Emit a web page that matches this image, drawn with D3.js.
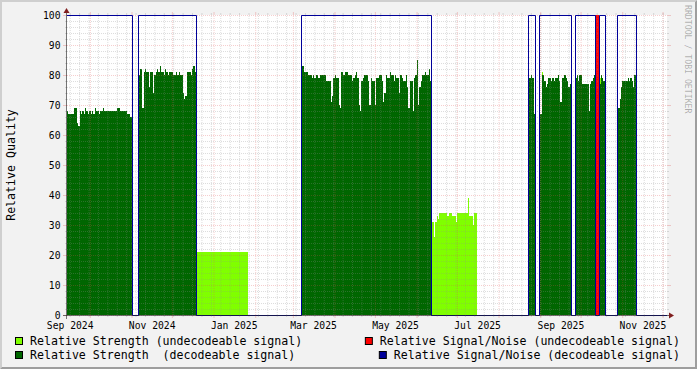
<!DOCTYPE html>
<html>
<head>
<meta charset="utf-8">
<script src="https://cdn.jsdelivr.net/npm/d3@7"></script>
<style>
  body { margin: 0; background: #f2f2f2; }
  svg { display: block; }
  text { font-family: 'DejaVu Sans Mono', monospace; white-space: pre; }
</style>
</head>
<body>
<div id="chart"></div>
<script>
// time span shown on the x axis
const timeRange = ['2024-09-14T00:00', '2025-12-04T07:00'];

// relative strength, decodeable signal: one value per day, per block
const decodeableStarts = ['2024-09-13T12:00', '2024-11-06T00:00', '2025-03-07T00:00', '2025-08-23T00:00',
  '2025-08-31T00:00', '2025-09-27T00:00', '2025-10-15T00:00', '2025-10-28T00:00'];
const decodeableValues = [
  [68, 67, 67, 67, 67, 67, 69, 69, 64, 63, 68, 67, 68, 67, 69, 68, 67, 68, 67, 68, 67, 69, 68, 68, 67,
    68, 68, 69, 68, 68, 68, 68, 68, 68, 68, 68, 68, 68, 69, 69, 68, 68, 68, 68, 68, 67, 67, 66, 66],
  [80, 82, 82, 69, 81, 82, 81, 81, 76, 81, 81, 74, 80, 81, 82, 81, 83, 81, 81, 80, 82, 81, 80, 81, 81,
    81, 80, 80, 81, 80, 81, 80, 80, 74, 72, 73, 81, 81, 81, 80, 82, 83, 81],
  [80, 83, 81, 81, 81, 80, 80, 80, 79, 80, 79, 80, 80, 79, 80, 80, 80, 80, 80, 78, 78, 78, 71, 73, 79,
    80, 79, 79, 70, 69, 81, 80, 80, 81, 81, 80, 80, 80, 78, 79, 80, 81, 79, 70, 68, 78, 79, 80, 80, 80,
    78, 70, 79, 78, 78, 70, 79, 79, 80, 80, 78, 71, 74, 80, 79, 79, 81, 80, 80, 78, 80, 79, 79, 74, 80,
    79, 78, 78, 80, 76, 69, 78, 78, 68, 79, 80, 85, 70, 76, 78, 80, 80, 81, 80, 80, 82, 78],
  [66, 79, 80, 79, 67],
  [67, 67, 80, 80, 78, 76, 77, 79, 79, 78, 79, 78, 79, 79, 80, 78, 71, 79, 79, 80, 79, 78, 76, 77],
  [79, 80, 78, 80, 80, 77, 77, 77, 77, 77, 68, 77, 78, 79, 80],
  [77, 80, 79, 78],
  [69, 69, 72, 76, 78, 78, 78, 78, 79, 78, 79, 78, 76, 80],
];

// relative strength, undecodeable signal
const undecodeableStarts = ['2024-12-19T00:00', '2025-06-12T00:00', '2025-09-02T00:00', '2025-10-15T00:00'];
const undecodeableValues = [
  [21, 21, 21, 21, 21, 21, 21, 21, 21, 21, 21, 21, 21, 21, 21, 21, 21, 21, 21, 21,
    21, 21, 21, 21, 21, 21, 21, 21, 21, 21, 21, 21, 21, 21, 21, 21, 21, 21, 21],
  [31, 31, 26, 31, 33, 32, 34, 34, 34, 34, 34, 34, 33, 34, 34, 33, 33, 33, 31, 34, 34, 34, 34, 34, 34,
    34, 34, 39, 33, 33, 33, 30, 34, 34],
  [81],
  [79],
];

// relative signal/noise, undecodeable signal
const snrUndecodeableStarts = ['2025-10-12T00:00'];
const snrUndecodeableValues = [[100, 100, 100]];

// relative signal/noise, decodeable signal (value holds until the next time)
const snrTimes = ['2024-09-13T12:00', '2024-11-01T12:00', '2024-11-06T00:00', '2024-12-19T00:00',
  '2025-03-07T00:00', '2025-06-12T00:00', '2025-08-23T00:00', '2025-08-28T00:00', '2025-08-31T00:00',
  '2025-09-24T00:00', '2025-09-27T00:00', '2025-10-12T00:00', '2025-10-15T00:00', '2025-10-19T00:00',
  '2025-10-28T00:00', '2025-11-11T00:00', '2025-12-04T07:00'];
const snrValues = [100, 0, 100, 0, 100, 0, 100, 0, 100, 0, 100, 0, 100, 0, 100, 0, 0];

// axes
const yTicks = [0, 10, 20, 30, 40, 50, 60, 70, 80, 90, 100];
const xLabelMonths = ['2024-09-01T00:00', '2024-11-01T00:00', '2025-01-01T00:00', '2025-03-01T00:00',
  '2025-05-01T00:00', '2025-07-01T00:00', '2025-09-01T00:00', '2025-11-01T00:00'];

const legendLabels = [
  'Relative Strength (undecodeable signal)',
  'Relative Signal/Noise (undecodeable signal)',
  'Relative Strength  (decodeable signal)',
  'Relative Signal/Noise (decodeable signal)',
];
const colors = {
  undecodeable: '#80ff00',
  decodeable: '#006600',
  snrUndecodeable: '#ff0000',
  snrDecodeable: '#000099',
};
const legendColors = [colors.undecodeable, colors.snrUndecodeable, colors.decodeable, colors.snrDecodeable];

const toDate = d3.utcParse('%Y-%m-%dT%H:%M');
const DAY = 864e5;

// turn a block of daily values into step points
function steps(start, values) {
  const t0 = toDate(start).getTime();
  const pts = values.map((v, i) => ({ t: new Date(t0 + i * DAY), v }));
  pts.push({ t: new Date(t0 + values.length * DAY), v: values[values.length - 1] });
  return pts;
}

function visualize() {
  const canvasWidth = 697;
  const canvasHeight = 369;
  const plot = { left: 67, top: 15, width: 600, height: 300 };
  const bottom = plot.top + plot.height;
  const right = plot.left + plot.width;

  const gridMinor = 'rgba(143,143,143,0.3)';
  const gridMajor = 'rgba(222,79,79,0.28)';

  const svg = d3.select('#chart')
    .append('svg')
    .attr('width', canvasWidth)
    .attr('height', canvasHeight);

  // background and shaded frame
  svg.append('rect')
    .attr('width', canvasWidth)
    .attr('height', canvasHeight)
    .attr('fill', '#f2f2f2');
  svg.append('path')
    .attr('d', `M0,${canvasHeight}L2,${canvasHeight - 2}L2,2L${canvasWidth - 2},2L${canvasWidth},0L0,0Z`)
    .attr('fill', '#cfcfcf');
  svg.append('path')
    .attr('d', `M2,${canvasHeight - 2}L${canvasWidth - 2},${canvasHeight - 2}L${canvasWidth - 2},2L${canvasWidth},0L${canvasWidth},${canvasHeight}L0,${canvasHeight}Z`)
    .attr('fill', '#9e9e9e');

  svg.append('rect')
    .attr('x', plot.left)
    .attr('y', plot.top)
    .attr('width', plot.width)
    .attr('height', plot.height)
    .attr('fill', '#ffffff');

  svg.append('defs')
    .append('clipPath')
    .attr('id', 'clip')
    .append('rect')
      .attr('x', plot.left)
      .attr('y', plot.top - 1)
      .attr('width', plot.width)
      .attr('height', plot.height + 2);

  const scaleX = d3.scaleUtc()
    .domain(timeRange.map(toDate))
    .range([plot.left, right]);
  const scaleY = d3.scaleLinear()
    .domain([0, 100])
    .range([bottom, plot.top]);

  const area = d3.area()
    .curve(d3.curveStepAfter)
    .x(d => scaleX(d.t))
    .y0(scaleY(0))
    .y1(d => scaleY(d.v));

  const data = svg.append('g')
    .attr('clip-path', 'url(#clip)');

  undecodeableStarts.forEach((s, i) => {
    data.append('path')
      .attr('d', area(steps(s, undecodeableValues[i])))
      .attr('fill', colors.undecodeable)
      .attr('shape-rendering', 'crispEdges');
  });
  snrUndecodeableStarts.forEach((s, i) => {
    data.append('path')
      .attr('d', area(steps(s, snrUndecodeableValues[i])))
      .attr('fill', colors.snrUndecodeable)
      .attr('shape-rendering', 'crispEdges');
  });
  decodeableStarts.forEach((s, i) => {
    data.append('path')
      .attr('d', area(steps(s, decodeableValues[i])))
      .attr('fill', colors.decodeable)
      .attr('shape-rendering', 'crispEdges');
  });

  // grid
  const [t0, t1] = scaleX.domain();
  const weeks = d3.utcMonday.range(t0, t1);
  const months = d3.utcMonth.range(t0, t1);
  const minorY = scaleY.ticks(50).filter(v => v % 10 !== 0);

  function grid(axis, color, transform) {
    svg.append('g')
      .attr('transform', transform)
      .call(axis.tickFormat(''))
      .call(g => g.select('.domain').remove())
      .call(g => g.selectAll('line')
        .attr('stroke', color)
        .attr('stroke-dasharray', '1,1'));
  }
  grid(d3.axisBottom(scaleX).tickValues(weeks).tickSize(-plot.height), gridMinor, `translate(0,${bottom})`);
  grid(d3.axisLeft(scaleY).tickValues(minorY).tickSize(-plot.width), gridMinor, `translate(${plot.left},0)`);
  grid(d3.axisBottom(scaleX).tickValues(months).tickSize(-plot.height), gridMajor, `translate(0,${bottom})`);
  grid(d3.axisLeft(scaleY).tickValues(yTicks).tickSize(-plot.width), gridMajor, `translate(${plot.left},0)`);

  // signal/noise line on top of the grid
  const line = d3.line()
    .curve(d3.curveStepAfter)
    .x(d => Math.round(scaleX(d.t)) + 0.5)
    .y(d => scaleY(d.v) + 0.5);
  svg.append('g')
    .attr('clip-path', 'url(#clip)')
    .append('path')
      .attr('d', line(snrTimes.map((t, i) => ({ t: toDate(t), v: snrValues[i] }))))
      .attr('fill', 'none')
      .attr('stroke', colors.snrDecodeable)
      .attr('stroke-width', 1);

  // small tick marks around the canvas
  function ticks(axis, color, transform) {
    svg.append('g')
      .attr('transform', transform)
      .call(axis.tickFormat(''))
      .call(g => g.select('.domain').remove())
      .call(g => g.selectAll('line').attr('stroke', color));
  }
  ticks(d3.axisBottom(scaleX).tickValues(weeks).tickSize(2), gridMinor, `translate(0,${bottom})`);
  ticks(d3.axisTop(scaleX).tickValues(weeks).tickSize(2), gridMinor, `translate(0,${plot.top})`);
  ticks(d3.axisBottom(scaleX).tickValues(months).tickSize(3), gridMajor, `translate(0,${bottom})`);
  ticks(d3.axisTop(scaleX).tickValues(months).tickSize(3), gridMajor, `translate(0,${plot.top})`);
  ticks(d3.axisLeft(scaleY).tickValues(minorY).tickSize(2), gridMinor, `translate(${plot.left},0)`);
  ticks(d3.axisRight(scaleY).tickValues(minorY).tickSize(2), gridMinor, `translate(${right},0)`);
  ticks(d3.axisRight(scaleY).tickValues(yTicks).tickSize(4), gridMajor, `translate(${right},0)`);

  // y axis labels
  svg.append('g')
    .attr('transform', `translate(${plot.left},0)`)
    .call(d3.axisLeft(scaleY).tickValues(yTicks).tickSize(4).tickPadding(2.5))
    .call(g => g.select('.domain').remove())
    .call(g => g.selectAll('line').attr('stroke', gridMajor))
    .call(g => g.selectAll('text')
      .attr('font-family', 'DejaVu Sans Mono')
      .attr('font-size', '9.7px')
      .attr('fill', '#000')
      .attr('dy', '0.36em'));

  // x axis labels, centred half a month after the month start
  const labelFormat = d3.utcFormat('%b %Y');
  svg.append('g')
    .attr('transform', `translate(0,${bottom})`)
    .call(d3.axisBottom(scaleX)
      .tickValues(xLabelMonths.map(m => d3.utcDay.offset(toDate(m), 15)))
      .tickFormat(labelFormat)
      .tickSize(0)
      .tickPadding(6.8))
    .call(g => g.select('.domain').remove())
    .call(g => g.selectAll('text')
      .attr('font-family', 'DejaVu Sans Mono')
      .attr('font-size', '9.7px')
      .attr('fill', '#000'));

  // axis lines and arrows
  const axisColor = 'rgba(31,31,31,0.6)';
  svg.append('line')
    .attr('x1', plot.left - 4).attr('x2', right + 4)
    .attr('y1', bottom + 0.5).attr('y2', bottom + 0.5)
    .attr('stroke', axisColor);
  svg.append('line')
    .attr('x1', plot.left - 0.5).attr('x2', plot.left - 0.5)
    .attr('y1', bottom + 4).attr('y2', plot.top - 4)
    .attr('stroke', axisColor);
  svg.append('path')
    .attr('d', `M${right + 2},${bottom - 2.5}L${right + 2},${bottom + 3.5}L${right + 7},${bottom + 0.5}Z`)
    .attr('fill', '#801f1f');
  svg.append('path')
    .attr('d', `M${plot.left - 3.5},${plot.top - 2}L${plot.left + 2.5},${plot.top - 2}L${plot.left - 0.5},${plot.top - 7}Z`)
    .attr('fill', '#801f1f');

  // vertical title
  svg.append('text')
    .attr('transform', `translate(15,${plot.top + plot.height / 2}) rotate(-90)`)
    .attr('text-anchor', 'middle')
    .attr('font-size', '11.6px')
    .attr('fill', '#000')
    .text('Relative Quality');

  // watermark
  svg.append('text')
    .attr('transform', `translate(685,5) rotate(90)`)
    .attr('font-size', '8.2px')
    .attr('fill', '#000')
    .attr('fill-opacity', 0.3)
    .text('RRDTOOL / TOBI OETIKER');

  // legend
  const legend = svg.append('g')
    .attr('class', 'legend');
  legendLabels.forEach((label, i) => {
    const row = Math.floor(i / 2);
    const baseline = 345.2 + row * 14;
    const text = legend.append('text')
      .attr('y', baseline)
      .attr('font-size', '11.6px')
      .attr('fill', '#000')
      .text(label);
    let textX = 30;
    if (i % 2 === 1) {
      textX = 680 - text.node().getComputedTextLength();
    }
    text.attr('x', textX);
    legend.append('rect')
      .attr('x', textX - 14.5)
      .attr('y', baseline - 7.7)
      .attr('width', 7)
      .attr('height', 7)
      .attr('fill', legendColors[i])
      .attr('stroke', '#000')
      .attr('stroke-width', 1);
  });
}

visualize();
</script>
</body>
</html>
